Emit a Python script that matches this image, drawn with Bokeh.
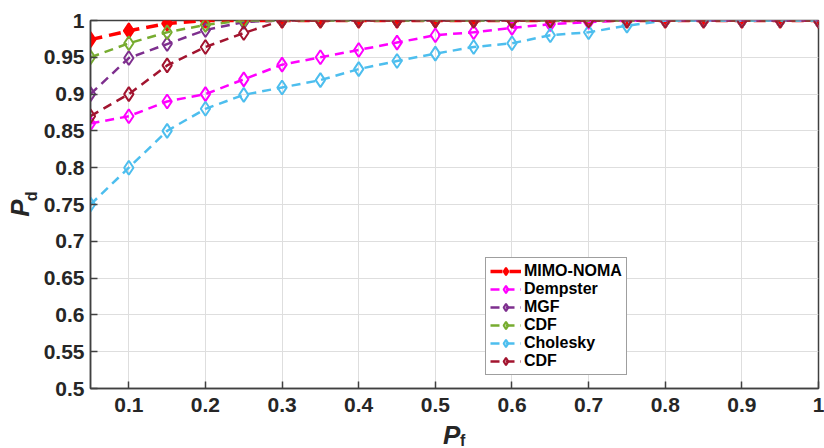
from bokeh.plotting import figure
from bokeh.layouts import row, column
from bokeh.models import Legend, FixedTicker, Range1d
from bokeh.core.properties import value
from bokeh.embed import file_html
from bokeh.resources import INLINE

# ---------------- data ----------------
pf = [0.05, 0.10, 0.15, 0.20, 0.25, 0.30, 0.35, 0.40, 0.45, 0.50,
      0.55, 0.60, 0.65, 0.70, 0.75, 0.80, 0.85, 0.90, 0.95, 1.00]

mimo_noma = [0.974, 0.986, 0.996, 1.0, 1.0, 1.0, 1.0, 1.0, 1.0, 1.0,
             1.0, 1.0, 1.0, 1.0, 1.0, 1.0, 1.0, 1.0, 1.0, 1.0]
dempster = [0.86, 0.87, 0.89, 0.90, 0.92, 0.94, 0.95, 0.96, 0.97, 0.98,
            0.984, 0.99, 0.995, 0.998, 1.0, 1.0, 1.0, 1.0, 1.0, 1.0]
mgf = [0.90, 0.949, 0.968, 0.987, 0.998, 1.0, 1.0, 1.0, 1.0, 1.0,
       1.0, 1.0, 1.0, 1.0, 1.0, 1.0, 1.0, 1.0, 1.0, 1.0]
cdf1 = [0.95, 0.969, 0.984, 0.994, 1.0, 1.0, 1.0, 1.0, 1.0, 1.0,
        1.0, 1.0, 1.0, 1.0, 1.0, 1.0, 1.0, 1.0, 1.0, 1.0]
cholesky = [0.75, 0.80, 0.85, 0.88, 0.899, 0.909, 0.919, 0.934, 0.945, 0.955,
            0.964, 0.969, 0.98, 0.984, 0.993, 1.0, 1.0, 1.0, 1.0, 1.0]
cdf2 = [0.87, 0.90, 0.939, 0.964, 0.983, 1.0, 1.0, 1.0, 1.0, 1.0,
        1.0, 1.0, 1.0, 1.0, 1.0, 1.0, 1.0, 1.0, 1.0, 1.0]

series_names = ["MIMO-NOMA", "Dempster", "MGF", "CDF", "Cholesky", "CDF"]
series_values = [mimo_noma, dempster, mgf, cdf1, cholesky, cdf2]
series_colors = ["#FF0000", "#FF00FF", "#7E2F8E", "#77AC30", "#4DBEEE", "#A2142F"]

x_ticks = [0.1, 0.2, 0.3, 0.4, 0.5, 0.6, 0.7, 0.8, 0.9, 1.0]
x_tick_labels = ["0.1", "0.2", "0.3", "0.4", "0.5", "0.6", "0.7", "0.8", "0.9", "1"]
y_ticks = [0.5, 0.55, 0.6, 0.65, 0.7, 0.75, 0.8, 0.85, 0.9, 0.95, 1.0]
y_tick_labels = ["0.5", "0.55", "0.6", "0.65", "0.7", "0.75", "0.8", "0.85", "0.9", "0.95", "1"]

FONT = "Liberation Sans"
TXT = "#262626"
AX = "#404040"

LEFT_W = 40          # strip holding the y-axis title
TOP = 20
BOTTOM = 33
MAIN_H = 421
XL_H = 448 - MAIN_H

x_range = Range1d(0.05, 1.0)
y_range = Range1d(0.5, 1.0)

# ---------------- main plot ----------------
p = figure(width=824 - LEFT_W, height=MAIN_H, output_backend="svg", toolbar_location=None,
           x_range=x_range, y_range=y_range,
           min_border_left=48, min_border_right=6, min_border_top=TOP, min_border_bottom=BOTTOM)
p.background_fill_color = "white"
p.border_fill_color = "white"
p.outline_line_color = AX
p.outline_line_width = 1.5

p.xgrid.grid_line_color = "#dedede"
p.ygrid.grid_line_color = "#dedede"

for ax in (p.xaxis[0], p.yaxis[0]):
    ax.axis_line_color = AX
    ax.axis_line_width = 1.5
    ax.major_tick_line_color = AX
    ax.major_tick_line_width = 1.5
    ax.major_tick_in = 7
    ax.major_tick_out = 0
    ax.minor_tick_line_color = None
    ax.major_label_text_font = FONT
    ax.major_label_text_font_style = "bold"
    ax.major_label_text_font_size = "21px"
    ax.major_label_text_color = TXT

p.xaxis[0].ticker = FixedTicker(ticks=x_ticks)
p.xaxis[0].major_label_overrides = dict(zip(x_ticks, x_tick_labels))
p.xaxis[0].major_label_standoff = 9
p.yaxis[0].ticker = FixedTicker(ticks=y_ticks)
p.yaxis[0].major_label_overrides = dict(zip(y_ticks, y_tick_labels))
p.yaxis[0].major_label_standoff = 6

items = []
for i, (name, vals, col) in enumerate(zip(series_names, series_values, series_colors)):
    if i == 0:
        r1 = p.line(pf, vals, line_color=col, line_width=3.5, line_dash="12 7")
        r2 = p.scatter(pf, vals, marker="diamond", size=15, line_color=col, line_width=2,
                       fill_color=col)
    else:
        r1 = p.line(pf, vals, line_color=col, line_width=2.5, line_dash="9 6")
        r2 = p.scatter(pf, vals, marker="diamond", size=14, line_color=col, line_width=2,
                       fill_alpha=0)
    items.append((name, [r1, r2]))

legend = Legend(items=items, location=(395, 13))
legend.label_text_font = FONT
legend.label_text_font_style = "bold"
legend.label_text_font_size = "16px"
legend.label_text_color = "black"
legend.glyph_width = 31
legend.glyph_height = 18
legend.label_height = 18
legend.label_standoff = 3
legend.spacing = 0
legend.padding = 4
legend.margin = 0
legend.border_line_color = AX
legend.border_line_width = 1.5
legend.background_fill_color = "white"
legend.background_fill_alpha = 1
p.add_layout(legend)

# ---------------- y-axis title strip (P_d) ----------------
yl = figure(width=LEFT_W, height=MAIN_H, output_backend="svg", toolbar_location=None,
            x_range=Range1d(0, LEFT_W), y_range=y_range, x_axis_type=None, y_axis_type=None,
            min_border_left=0, min_border_right=0, min_border_top=TOP, min_border_bottom=BOTTOM)
yl.outline_line_color = None
yl.grid.visible = False
yl.text(x=[19.5], y=[0.7453], text=["P"], angle=1.5708, text_font=value(FONT),
        text_font_style="bold italic", text_font_size="26px", text_color=TXT,
        text_align="center", text_baseline="middle")
yl.text(x=[31], y=[0.761], text=["d"], angle=1.5708, text_font=value(FONT),
        text_font_style="bold", text_font_size="16px", text_color=TXT,
        text_align="center", text_baseline="middle")

# ---------------- x-axis title strip (P_f) ----------------
xl = figure(width=824, height=XL_H, output_backend="svg", toolbar_location=None,
            x_range=x_range, y_range=Range1d(0, XL_H), x_axis_type=None, y_axis_type=None,
            min_border_left=LEFT_W + 48, min_border_right=6, min_border_top=0, min_border_bottom=0)
xl.outline_line_color = None
xl.grid.visible = False
xl.text(x=[0.5225], y=[14], text=["P"], text_font=value(FONT),
        text_font_style="bold italic", text_font_size="26px", text_color=TXT,
        text_align="center", text_baseline="middle")
xl.text(x=[0.537], y=[8], text=["f"], text_font=value(FONT),
        text_font_style="bold", text_font_size="16px", text_color=TXT,
        text_align="center", text_baseline="middle")

layout = column(row(yl, p, spacing=0), xl, spacing=0)

open("out.html", "w").write(file_html(layout, INLINE))
